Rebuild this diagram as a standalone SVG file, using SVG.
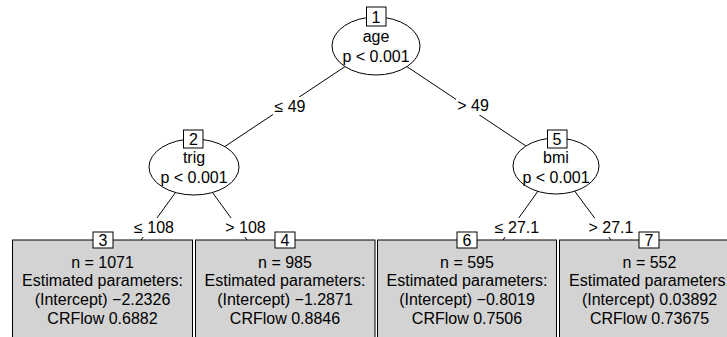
<svg xmlns="http://www.w3.org/2000/svg" width="727" height="337" viewBox="0 0 727 337">
<style>
text{font-family:"Liberation Sans",Arial,Helvetica,sans-serif;font-size:16px;fill:#000;text-anchor:middle}
.edge{stroke:#000;stroke-width:1;fill:none}
.inner{fill:#fff;stroke:#000;stroke-width:1}
.leaf{fill:#d3d3d3;stroke:#000;stroke-width:1}
.idbox{fill:#fff;stroke:#000;stroke-width:1}
.lblbg{fill:#fff;stroke:none}
</style>
<rect width="727" height="337" fill="#fff"/>
<g id="connectors">
<line class="edge" x1="376" y1="46" x2="194" y2="167"/>
<line class="edge" x1="376" y1="46" x2="556" y2="166"/>
<line class="edge" x1="194" y1="167" x2="141" y2="240"/>
<line class="edge" x1="194" y1="167" x2="247" y2="240"/>
<line class="edge" x1="556" y1="166" x2="503" y2="240"/>
<line class="edge" x1="556" y1="166" x2="611" y2="240"/>
<rect class="lblbg" x="273" y="97" width="34" height="19"/>
<text x="290" y="112">≤ 49</text>
<rect class="lblbg" x="456" y="96" width="34" height="19"/>
<text x="473" y="111">&gt; 49</text>
<rect class="lblbg" x="133" y="218" width="42" height="19"/>
<text x="154" y="233">≤ 108</text>
<rect class="lblbg" x="224" y="218" width="43" height="19"/>
<text x="245.5" y="233">&gt; 108</text>
<rect class="lblbg" x="495" y="218" width="44" height="19"/>
<text x="517" y="233">≤ 27.1</text>
<rect class="lblbg" x="586" y="218" width="50" height="19"/>
<text x="611" y="233">&gt; 27.1</text>
</g>
<g id="node1">
<ellipse class="inner" cx="376" cy="46" rx="44" ry="29"/>
<rect class="idbox" x="366.5" y="7" width="19.5" height="19"/>
<text x="376" y="22.5">1</text>
<text x="376" y="42">age</text>
<text x="376" y="62">p &lt; 0.001</text>
</g>
<g id="node2">
<ellipse class="inner" cx="194" cy="167" rx="45" ry="28"/>
<rect class="idbox" x="183.5" y="130" width="19.5" height="18"/>
<text x="193.5" y="145">2</text>
<text x="194" y="163">trig</text>
<text x="194" y="183">p &lt; 0.001</text>
</g>
<g id="node5">
<ellipse class="inner" cx="556" cy="166" rx="43" ry="28"/>
<rect class="idbox" x="547.5" y="130" width="19.5" height="18"/>
<text x="557" y="145">5</text>
<text x="556" y="163">bmi</text>
<text x="556" y="183">p &lt; 0.001</text>
</g>
<g id="node3">
<rect class="leaf" x="12.5" y="240" width="180" height="110"/>
<rect class="idbox" x="93" y="232" width="20" height="16"/>
<text x="103" y="246">3</text>
<text x="102.5" y="267.5">n = 1071</text>
<text x="102.5" y="286">Estimated parameters:</text>
<text x="102.5" y="305">(Intercept) −2.2326</text>
<text x="102.5" y="324">CRFlow 0.6882</text>
</g>
<g id="node4">
<rect class="leaf" x="195.5" y="240" width="179.5" height="110"/>
<rect class="idbox" x="275" y="232" width="20" height="16"/>
<text x="285" y="246">4</text>
<text x="285" y="267.5">n = 985</text>
<text x="285" y="286">Estimated parameters:</text>
<text x="285" y="305">(Intercept) −1.2871</text>
<text x="285" y="324">CRFlow 0.8846</text>
</g>
<g id="node6">
<rect class="leaf" x="377.5" y="240" width="179" height="110"/>
<rect class="idbox" x="457" y="232" width="20" height="16"/>
<text x="467" y="246">6</text>
<text x="467" y="267.5">n = 595</text>
<text x="467" y="286">Estimated parameters:</text>
<text x="467" y="305">(Intercept) −0.8019</text>
<text x="467" y="324">CRFlow 0.7506</text>
</g>
<g id="node7">
<rect class="leaf" x="559.5" y="240" width="180" height="110"/>
<rect class="idbox" x="639" y="232" width="20" height="16"/>
<text x="649" y="246">7</text>
<text x="649.5" y="267.5">n = 552</text>
<text x="649.5" y="286">Estimated parameters:</text>
<text x="649.5" y="305">(Intercept) 0.03892</text>
<text x="649.5" y="324">CRFlow 0.73675</text>
</g>
</svg>
